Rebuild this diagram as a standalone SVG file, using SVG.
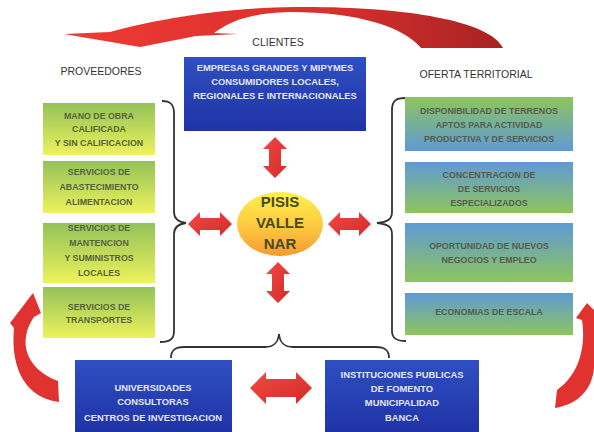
<svg xmlns="http://www.w3.org/2000/svg" width="594" height="432" viewBox="0 0 594 432">
<defs>
<linearGradient id="gy" x1="0" y1="0" x2="0" y2="1"><stop offset="0" stop-color="#93c25a"/><stop offset="1" stop-color="#eef25c"/></linearGradient>
<linearGradient id="gb" x1="0" y1="0" x2="0" y2="1"><stop offset="0" stop-color="#5f9ad6"/><stop offset="1" stop-color="#8ec55c"/></linearGradient>
<linearGradient id="gbi" x1="0" y1="0" x2="0" y2="1"><stop offset="0" stop-color="#8ec55c"/><stop offset="1" stop-color="#5f9ad6"/></linearGradient>
<linearGradient id="blue" x1="0" y1="0" x2="0" y2="1"><stop offset="0" stop-color="#2f4fc2"/><stop offset="1" stop-color="#1f33a6"/></linearGradient>
<linearGradient id="orb" x1="0" y1="0" x2="0" y2="1"><stop offset="0" stop-color="#fff04a"/><stop offset="0.55" stop-color="#fcc840"/><stop offset="1" stop-color="#f59a32"/></linearGradient>
<linearGradient id="topArr" x1="0" y1="0" x2="1" y2="0"><stop offset="0" stop-color="#f03a34"/><stop offset="0.6" stop-color="#d8302c"/><stop offset="1" stop-color="#a82224"/></linearGradient>
<linearGradient id="red" x1="0" y1="0" x2="1" y2="1"><stop offset="0" stop-color="#f04a44"/><stop offset="1" stop-color="#d42a28"/></linearGradient>
<style>
.hd{font-family:"Liberation Sans",Arial,sans-serif;font-size:10.5px;fill:#333;text-anchor:middle}
.lt{font-family:"Liberation Sans",Arial,sans-serif;font-size:8.8px;font-weight:bold;fill:#56633a;text-anchor:middle}
.rt{font-family:"Liberation Sans",Arial,sans-serif;font-size:8.8px;font-weight:bold;fill:#545c4c;text-anchor:middle}
.bt{font-family:"Liberation Sans",Arial,sans-serif;font-size:9.4px;font-weight:bold;fill:#e4e6f4;text-anchor:middle}
.ct{font-family:"Liberation Sans",Arial,sans-serif;font-size:15px;font-weight:bold;fill:#4a4a22;text-anchor:middle}
.br{fill:none;stroke:#333;stroke-width:1.8}
.ar{fill:url(#red)}
.bx{stroke:none}
</style>
</defs>
<rect width="594" height="432" fill="#fff"/>

<g id="connectors">
<path id="top-arrow" d="M503,48 C490,20 400,6 295,7 C215,8 150,21 110,32 L64,34 L140,47 L196,36 L238,34 L214,33 C232,20 252,13 290,12 C360,12 405,28 421,48 Z" fill="url(#topArr)"/>
<path id="left-curve" d="M33,293 L41,313 L34,317 C18,340 24,368 58,381 L59,402 C28,398 10,372 14,328 L10,323 Z" fill="#e0322e"/>
<path id="right-curve" d="M587,303 L576,318 L582,320 C586,345 580,374 557,390 L555,408 C578,404 592,390 594,368 L594,310 Z" fill="#e0322e"/>
<path class="br" d="M162,101 C170,101 174,104 174,113 L174,212 C174,219 178,222 186,223 C178,224 174,227 174,234 L174,331 C174,339 170,342 160,342"/>
<path class="br" d="M405,98 C396,98 392,101 392,110 L392,212 C392,219 388,222 377,223 C388,224 392,227 392,234 L392,331 C392,338 396,341 406,341"/>
<path class="br" d="M171,358 C171,350 175,347 184,347 L265,347 C274,347 278,343 279,334 C280,343 284,347 293,347 L376,347 C385,347 389,350 389,358"/>
<path class="ar" d="M188,224 L200,212 L200,218 L220,218 L220,212 L232,224 L220,236 L220,230 L200,230 L200,236 Z"/>
<path class="ar" d="M328,224 L340,212 L340,218 L359,218 L359,212 L371,224 L359,236 L359,230 L340,230 L340,236 Z"/>
<path class="ar" d="M275,137 L287,149 L281,149 L281,166 L287,166 L275,178 L263,166 L269,166 L269,149 L263,149 Z"/>
<path class="ar" d="M278,262 L290,274 L284,274 L284,291 L290,291 L278,303 L266,291 L272,291 L272,274 L266,274 Z"/>
<path class="ar" d="M250,388 L266,372 L266,379 L296,379 L296,372 L312,388 L296,404 L296,397 L266,397 L266,404 Z"/>
</g>

<g id="labels">
<text class="hd" x="278" y="46">CLIENTES</text>
<text class="hd" x="101" y="75">PROVEEDORES</text>
<text class="hd" x="476" y="78">OFERTA TERRITORIAL</text>
</g>

<g id="clientes">
<rect class="bx" x="184" y="57" width="182" height="74" fill="url(#blue)"/>
<text class="bt" x="275" y="71">EMPRESAS GRANDES Y MIPYMES</text>
<text class="bt" x="275" y="85">CONSUMIDORES LOCALES,</text>
<text class="bt" x="275" y="99">REGIONALES E INTERNACIONALES</text>
</g>

<g id="center">
<ellipse cx="280" cy="224" rx="43" ry="32" fill="url(#orb)"/>
<text class="ct" x="280" y="207">PISIS</text>
<text class="ct" x="280" y="228">VALLE</text>
<text class="ct" x="280" y="249">NAR</text>
</g>

<g id="p1"><rect class="bx" x="43" y="103" width="112" height="52" fill="url(#gy)"/>
<text class="lt" x="99" y="119">MANO DE OBRA</text><text class="lt" x="99" y="132">CALIFICADA</text><text class="lt" x="99" y="146">Y SIN CALIFICACION</text></g>
<g id="p2"><rect class="bx" x="43" y="161" width="112" height="52" fill="url(#gy)"/>
<text class="lt" x="99" y="175">SERVICIOS DE</text><text class="lt" x="99" y="190">ABASTECIMIENTO</text><text class="lt" x="99" y="205">ALIMENTACION</text></g>
<g id="p3"><rect class="bx" x="43" y="223" width="112" height="60" fill="url(#gy)"/>
<text class="lt" x="99" y="231">SERVICIOS DE</text><text class="lt" x="99" y="246">MANTENCION</text><text class="lt" x="99" y="261">Y SUMINISTROS</text><text class="lt" x="99" y="276">LOCALES</text></g>
<g id="p4"><rect class="bx" x="43" y="287" width="112" height="51" fill="url(#gy)"/>
<text class="lt" x="99" y="310">SERVICIOS DE</text><text class="lt" x="99" y="323">TRANSPORTES</text></g>

<g id="o1"><rect class="bx" x="405" y="97" width="168" height="54" fill="url(#gbi)"/>
<text class="rt" x="489" y="114">DISPONIBILIDAD DE TERRENOS</text><text class="rt" x="489" y="128">APTOS PARA ACTIVIDAD</text><text class="rt" x="489" y="142">PRODUCTIVA Y DE SERVICIOS</text></g>
<g id="o2"><rect class="bx" x="405" y="162" width="168" height="51" fill="url(#gb)"/>
<text class="rt" x="489" y="178">CONCENTRACION DE</text><text class="rt" x="489" y="192">DE SERVICIOS</text><text class="rt" x="489" y="206">ESPECIALIZADOS</text></g>
<g id="o3"><rect class="bx" x="405" y="223" width="168" height="59" fill="url(#gb)"/>
<text class="rt" x="489" y="249">OPORTUNIDAD DE NUEVOS</text><text class="rt" x="489" y="263">NEGOCIOS Y EMPLEO</text></g>
<g id="o4"><rect class="bx" x="405" y="293" width="168" height="42" fill="url(#gb)"/>
<text class="rt" x="489" y="315">ECONOMIAS DE ESCALA</text></g>

<g id="universidades"><rect class="bx" x="75" y="360" width="157" height="72" fill="url(#blue)"/>
<text class="bt" x="153" y="391">UNIVERSIDADES</text><text class="bt" x="153" y="405">CONSULTORAS</text><text class="bt" x="153" y="421">CENTROS DE INVESTIGACION</text></g>
<g id="instituciones"><rect class="bx" x="325" y="360" width="154" height="72" fill="url(#blue)"/>
<text class="bt" x="402" y="378">INSTITUCIONES PUBLICAS</text><text class="bt" x="402" y="392">DE FOMENTO</text><text class="bt" x="402" y="406">MUNICIPALIDAD</text><text class="bt" x="402" y="421">BANCA</text></g>
</svg>
